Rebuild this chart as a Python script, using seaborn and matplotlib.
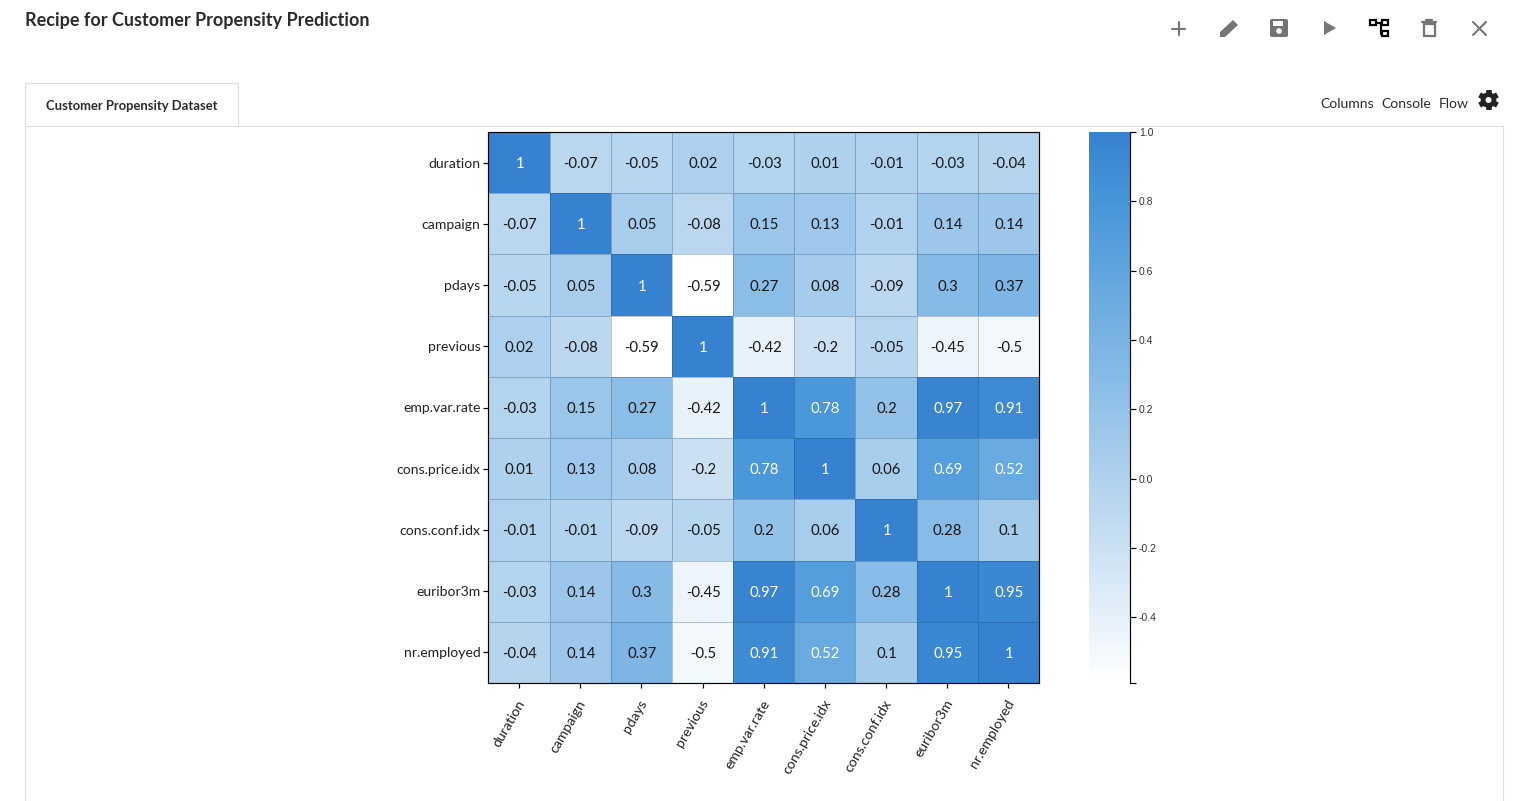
import numpy as np
import pandas as pd
import seaborn as sns
import matplotlib
matplotlib.use("Agg")
import matplotlib.pyplot as plt
from matplotlib.colors import LinearSegmentedColormap
from matplotlib.patches import Rectangle, Polygon, Circle, FancyBboxPatch
from matplotlib.transforms import ScaledTranslation

columns = ["duration", "campaign", "pdays", "previous", "emp.var.rate",
           "cons.price.idx", "cons.conf.idx", "euribor3m", "nr.employed"]
duration = [1, -0.07, -0.05, 0.02, -0.03, 0.01, -0.01, -0.03, -0.04]
campaign = [-0.07, 1, 0.05, -0.08, 0.15, 0.13, -0.01, 0.14, 0.14]
pdays = [-0.05, 0.05, 1, -0.59, 0.27, 0.08, -0.09, 0.3, 0.37]
previous = [0.02, -0.08, -0.59, 1, -0.42, -0.2, -0.05, -0.45, -0.5]
emp_var_rate = [-0.03, 0.15, 0.27, -0.42, 1, 0.78, 0.2, 0.97, 0.91]
cons_price_idx = [0.01, 0.13, 0.08, -0.2, 0.78, 1, 0.06, 0.69, 0.52]
cons_conf_idx = [-0.01, -0.01, -0.09, -0.05, 0.2, 0.06, 1, 0.28, 0.1]
euribor3m = [-0.03, 0.14, 0.3, -0.45, 0.97, 0.69, 0.28, 1, 0.95]
nr_employed = [-0.04, 0.14, 0.37, -0.5, 0.91, 0.52, 0.1, 0.95, 1]
rows = [duration, campaign, pdays, previous, emp_var_rate,
        cons_price_idx, cons_conf_idx, euribor3m, nr_employed]
cbar_ticks = [-0.59, -0.4, -0.2, 0.0, 0.2, 0.4, 0.6, 0.8, 1.0]
cbar_labels = ["", "-0.4", "-0.2", "0.0", "0.2", "0.4", "0.6", "0.8", "1.0"]

W, H = 1527, 801
sns.set_theme(style="white")
plt.rcParams["font.family"] = ["Lato", "DejaVu Sans"]
fig = plt.figure(figsize=(W / 100, H / 100), dpi=100, facecolor="white")


def box(x0, y0, x1, y1):
    return [x0 / W, 1 - y1 / H, (x1 - x0) / W, (y1 - y0) / H]


# page chrome, in pixel coordinates
bg = fig.add_axes([0, 0, 1, 1], zorder=0)
bg.set_xlim(0, W)
bg.set_ylim(H, 0)
bg.axis("off")
edge = "#dddddd"
bg.plot([25, 25, 238, 238], [126, 83, 83, 126], color=edge, lw=0.8)
bg.plot([25, 25], [126, H], color=edge, lw=0.8)
bg.plot([25, 1503, 1503], [126, 126, H], color=edge, lw=0.8)
dark = "#2b2b2b"
bg.text(25, 20.5, "Recipe for Customer Propensity Prediction", fontsize=13.0,
        fontweight="bold", color=dark, va="center", ha="left")
bg.text(45.5, 105.5, "Customer Propensity Dataset", fontsize=9.35,
        fontweight="bold", color=dark, va="center", ha="left")
bg.text(1320.5, 104, "Columns", fontsize=10.1, color=dark, va="center", ha="left")
bg.text(1381.5, 104, "Console", fontsize=10.1, color=dark, va="center", ha="left")
bg.text(1439, 104, "Flow", fontsize=10.1, color=dark, va="center", ha="left")

grey = "#757575"
# plus
bg.plot([1172, 1185], [28.5, 28.5], color=grey, lw=1.5)
bg.plot([1178.5, 1178.5], [22, 35], color=grey, lw=1.5)
# pencil
bg.add_patch(Polygon([(1220, 37), (1220, 32), (1233, 20), (1238, 25), (1225, 37)], color=grey, lw=0))
# save
bg.add_patch(FancyBboxPatch((1270, 19), 18, 18, boxstyle="round,pad=0,rounding_size=2", color=grey, lw=0))
bg.add_patch(Rectangle((1273, 21), 10, 4.5, color="white", lw=0))
bg.add_patch(Circle((1279, 31), 2.8, color="white", lw=0))
# play
bg.add_patch(Polygon([(1324, 21), (1336, 28), (1324, 35)], color=grey, lw=0))
# flow
for (x, y, w, h) in [(1370, 20, 6, 5), (1382, 20, 6, 5), (1382, 31, 6, 5)]:
    bg.add_patch(Rectangle((x, y), w, h, fill=False, ec="black", lw=1.6))
bg.plot([1376, 1382], [22.5, 22.5], color="black", lw=1.6)
bg.plot([1381, 1381, 1382], [22.5, 33.5, 33.5], color="black", lw=1.6)
# trash
bg.add_patch(Rectangle((1423.5, 24), 11, 12, fill=False, ec=grey, lw=1.6))
bg.plot([1422, 1436], [21.5, 21.5], color=grey, lw=1.6)
bg.plot([1426, 1432], [20, 20], color=grey, lw=1.6)
# close
bg.plot([1473, 1486], [22, 35], color=grey, lw=1.5)
bg.plot([1473, 1486], [35, 22], color=grey, lw=1.5)
# gear
angles = np.deg2rad(np.arange(0, 180, 60) + 30)
for a in angles:
    bg.plot([1488.5 - 10.3 * np.cos(a), 1488.5 + 10.3 * np.cos(a)],
            [100 - 10.3 * np.sin(a), 100 + 10.3 * np.sin(a)],
            color="#222222", lw=4, solid_capstyle="butt")
bg.add_patch(Circle((1488.5, 100), 7.8, color="#222222", lw=0, zorder=3))
bg.add_patch(Circle((1488.5, 100), 3.0, color="white", lw=0, zorder=4))

# heatmap
df = pd.DataFrame(rows, index=columns, columns=columns)
cmap = LinearSegmentedColormap.from_list("blues", [
    (0.0, "#ffffff"), (0.35, "#b4d4ee"), (0.54, "#8abde8"),
    (0.70, "#69aae0"), (0.86, "#4a98da"), (1.0, "#3682d0")])
ax = fig.add_axes(box(488.5, 132, 1039, 683), zorder=2)
cax = fig.add_axes(box(1089, 132, 1130, 683), zorder=2)
sns.heatmap(df, ax=ax, cbar_ax=cax, cmap=cmap, vmin=-0.59, vmax=1,
            annot=True, fmt="g", annot_kws={"fontsize": 10.7},
            linewidths=0.5, linecolor=(0.1, 0.25, 0.4, 0.3), square=False)

text_shift = ScaledTranslation(0.5 / 100, -1.5 / 100, fig.dpi_scale_trans)
flat = df.values.ravel()
for t, v in zip(ax.texts, flat):
    t.set_color("white" if v >= 0.5 else "#161616")
    t.set_transform(t.get_transform() + text_shift)

for s in ax.spines.values():
    s.set_visible(True)
    s.set_color("black")
    s.set_linewidth(0.85)

ax.tick_params(axis="both", length=3.5, width=0.85, color="black", pad=2,
               labelsize=10.1, labelcolor="#222222", bottom=True, left=True)
ax.set_yticklabels(columns, rotation=0)
ax.set_xticklabels(columns, rotation=60, ha="right", va="top")
shift = ScaledTranslation(8 / 100, -7 / 100, fig.dpi_scale_trans)
for lab in ax.get_xticklabels():
    lab.set_transform(lab.get_transform() + shift)
for lab in ax.get_yticklabels():
    lab.set_transform(lab.get_transform() + ScaledTranslation(-0.5 / 100, -1 / 100, fig.dpi_scale_trans))

cb = ax.collections[0].colorbar
cb.outline.set_visible(False)
cb.set_ticks(cbar_ticks)
cb.set_ticklabels(cbar_labels)
cb.ax.spines["right"].set_visible(True)
cb.ax.spines["right"].set_color("black")
cb.ax.spines["right"].set_linewidth(0.85)
cb.ax.tick_params(axis="y", length=4.5, width=0.85, color="black", pad=2, right=True,
                  labelsize=7.5, labelcolor="#333333")
for lab in cb.ax.get_yticklabels():
    lab.set_fontfamily("Liberation Sans")

fig.savefig("out.png", dpi=100, facecolor="white")
